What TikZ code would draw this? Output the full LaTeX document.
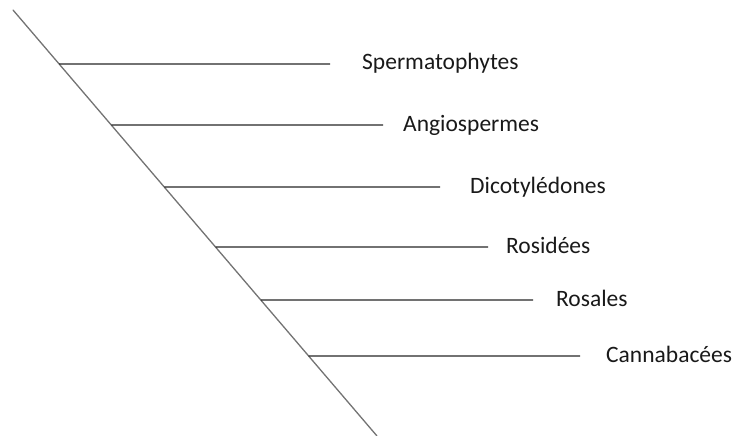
\documentclass[tikz,border=0pt]{standalone}
\usepackage{fontspec}
\setmainfont{Carlito}
\tikzset{
    stem/.style = {draw=black!55, line width=1.3pt, line cap=round},
    branch/.style = {draw=black!85, line width=1.2pt},
    taxon/.style = {anchor=base west, inner sep=0pt, text=black!90, font=\fontsize{23.5}{28}\selectfont}
}

\begin{document}
\begin{tikzpicture}[x=1pt, y=-1pt]
    \useasboundingbox (0,0) rectangle (733,436);
    \coordinate (top) at (13,10);
    \coordinate (bottom) at (377,436);
    \draw[stem] (top) -- (bottom);
    \foreach \y/\e/\t/\name [count=\i] in {64/330/362/Spermatophytes, 125/383/403/Angiospermes,
            187/440/470/Dicotylédones, 247/488/506/Rosidées, 300/533/556/Rosales, 356/580/606/Cannabacées}{
        \coordinate (b\i) at (intersection of top--bottom and 0,\y--1,\y);
        \coordinate (e\i) at (\e,\y);
        \node[taxon] (t\i) at (\t,\y+6) {\name};
        \draw[branch] (b\i) -- (e\i);
    }
\end{tikzpicture}
\end{document}
